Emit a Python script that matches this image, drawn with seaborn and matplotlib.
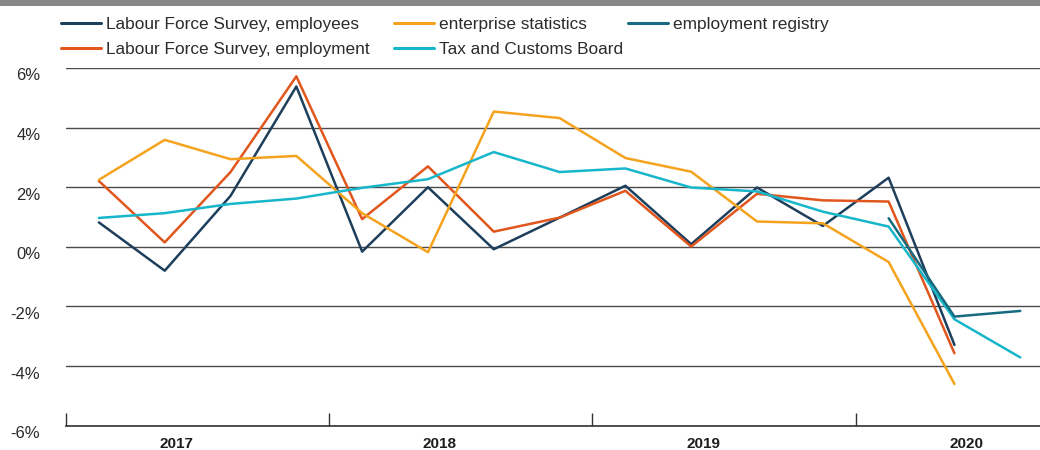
import numpy as np
import pandas as pd
import seaborn as sns
import matplotlib
matplotlib.use("Agg")
import matplotlib.pyplot as plt
from matplotlib.lines import Line2D
from matplotlib.patches import Rectangle
from matplotlib.transforms import ScaledTranslation

# Quarterly employment growth, year over year (%), Q1 2017 .. Q3 2020
quarters = ["2017Q1", "2017Q2", "2017Q3", "2017Q4",
            "2018Q1", "2018Q2", "2018Q3", "2018Q4",
            "2019Q1", "2019Q2", "2019Q3", "2019Q4",
            "2020Q1", "2020Q2", "2020Q3"]
years = ["2017", "2018", "2019", "2020"]

lfs_employees = [0.82, -0.80, 1.71, 5.38, -0.16, 2.00, -0.08, 0.98,
                 2.05, 0.09, 1.99, 0.70, 2.32, -3.29, np.nan]
lfs_employment = [2.21, 0.15, 2.51, 5.72, 0.93, 2.70, 0.51, 0.98,
                  1.88, 0.01, 1.78, 1.56, 1.52, -3.57, np.nan]
enterprise_stats = [2.25, 3.59, 2.94, 3.05, 1.13, -0.18, 4.54, 4.32,
                    2.98, 2.52, 0.85, 0.79, -0.51, -4.60, np.nan]
tax_customs = [0.97, 1.13, 1.44, 1.62, 1.98, 2.27, 3.18, 2.51,
               2.63, 1.99, 1.86, 1.18, 0.68, -2.43, -3.71]
employment_registry = [np.nan] * 12 + [0.96, -2.34, -2.15]

series_names = ["Labour Force Survey, employees",
                "Labour Force Survey, employment",
                "enterprise statistics",
                "Tax and Customs Board",
                "employment registry"]
series_values = [lfs_employees, lfs_employment, enterprise_stats,
                 tax_customs, employment_registry]
series_colors = ["#1d3f5c", "#e0561d", "#f5a31f", "#17b6cb", "#176b80"]

y_ticks = [-6, -4, -2, 0, 2, 4, 6]

frames = []
for name, vals in zip(series_names, series_values):
    frames.append(pd.DataFrame({"q": np.arange(len(quarters)),
                                "value": vals, "series": name}))
df = pd.concat(frames, ignore_index=True).dropna()

sns.set_theme(style="white")
plt.rcParams["font.family"] = ["Liberation Sans", "DejaVu Sans"]

fig = plt.figure(figsize=(10.4, 4.5), dpi=100)
fig.patch.set_facecolor("white")
ax = fig.add_axes([66 / 1040, 24.3 / 450, 1 - 66 / 1040, 357.7 / 450])

palette = dict(zip(series_names, series_colors))
sns.lineplot(data=df, x="q", y="value", hue="series", hue_order=series_names,
             palette=palette, linewidth=1.8, errorbar=None, legend=False,
             ax=ax)

ax.set_xlim(-0.5, 14.30)
ax.set_ylim(-6, 6)
ax.set_xlabel("")
ax.set_ylabel("")

# horizontal grid
ax.set_yticks(y_ticks)
ax.set_yticklabels([f"{t}%" for t in y_ticks], fontsize=12, color="#2b2b2b")
ax.yaxis.grid(True, color="#4a4a4a", linewidth=1.0)
ax.set_axisbelow(True)
ax.tick_params(axis="y", length=0, pad=18.5)
for lbl in ax.get_yticklabels():
    lbl.set_transform(lbl.get_transform() +
                      ScaledTranslation(0, -6.5 / 100, fig.dpi_scale_trans))

# year boundaries as inward ticks, year names between them
year_edges = [4 * i - 0.5 for i in range(len(years))]
year_mids = [4 * i + 1.5 for i in range(len(years))]
ax.set_xticks(year_edges, minor=True)
ax.set_xticks(year_mids)
ax.set_xticklabels(years, fontsize=11, fontweight="bold", color="#1e1e1e")
ax.tick_params(axis="x", which="minor", direction="in", length=9.5,
               width=1.0, color="#333333", bottom=True)
ax.tick_params(axis="x", which="major", length=0, pad=8)
for lbl in ax.get_xticklabels():
    lbl.set_transform(lbl.get_transform() +
                      ScaledTranslation(-21 / 100, 0, fig.dpi_scale_trans))

for side in ["top", "right", "left"]:
    ax.spines[side].set_visible(False)
ax.spines["bottom"].set_color("#333333")
ax.spines["bottom"].set_linewidth(1.2)

# grey band across the top
fig.patches.append(Rectangle((0, 444 / 450), 1, 6 / 450, transform=fig.transFigure,
                             facecolor="#878787", edgecolor="none", zorder=5))

# legend laid out as three columns
legend_cols = [
    (61, ["Labour Force Survey, employees", "Labour Force Survey, employment"]),
    (394, ["enterprise statistics", "Tax and Customs Board"]),
    (628, ["employment registry"]),
]
for x_px, names in legend_cols:
    handles = [Line2D([], [], color=palette[n], linewidth=2.2) for n in names]
    fig.legend(handles, names, loc="upper left",
               bbox_to_anchor=(x_px / 1040, 1 - 16.5 / 450),
               frameon=False, fontsize=12.4, handlelength=2.35,
               handletextpad=0.28, borderpad=0, borderaxespad=0,
               labelspacing=0.58, labelcolor="#2b2b2b")

fig.savefig("out.png", dpi=100, facecolor="white")
